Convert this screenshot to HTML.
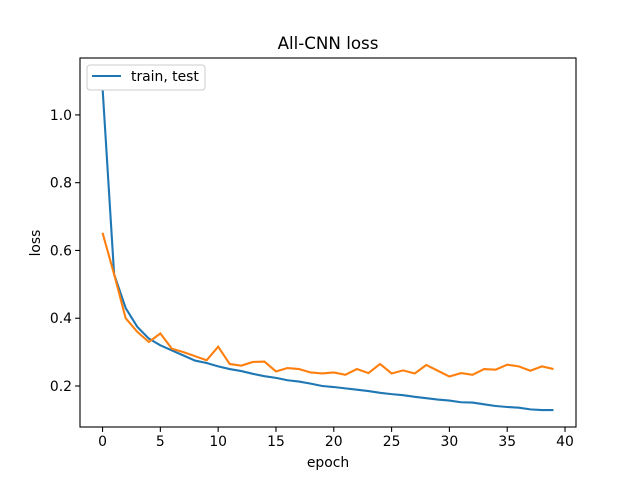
<!DOCTYPE html>
<html><head><meta charset="utf-8"><style>body{margin:0;background:#fff}svg{display:block;font-family:"DejaVu Sans","Liberation Sans",sans-serif}</style></head>
<body>
<svg id="c" width="640" height="480"></svg>
<script>
const epochs=[...Array(40).keys()];
const trainLoss=[1.08,0.53,0.43,0.375,0.34,0.32,0.305,0.29,0.275,0.268,0.258,0.25,0.244,0.236,0.229,0.224,0.217,0.213,0.207,0.2,0.197,0.193,0.189,0.185,0.18,0.176,0.173,0.168,0.164,0.16,0.157,0.152,0.151,0.146,0.141,0.138,0.136,0.131,0.129,0.129];
const testLoss=[0.652,0.53,0.40,0.36,0.33,0.355,0.31,0.30,0.288,0.276,0.316,0.265,0.26,0.271,0.272,0.243,0.253,0.25,0.24,0.237,0.24,0.233,0.25,0.238,0.265,0.237,0.246,0.237,0.262,0.245,0.228,0.238,0.233,0.25,0.248,0.263,0.258,0.245,0.258,0.25];
const xTicks=[0,5,10,15,20,25,30,35,40];
const yTicks=[0.2,0.4,0.6,0.8,1.0];
const NS='http://www.w3.org/2000/svg',s=document.getElementById('c');
const L=80,R=576,T=58,B=427;
const xmin=-1.95,xmax=40.95,ymin=0.079,ymax=1.168;
const X=v=>L+(v-xmin)/(xmax-xmin)*(R-L);
const Y=v=>B-(v-ymin)/(ymax-ymin)*(B-T);
function el(t,a,txt){const e=document.createElementNS(NS,t);for(const k in a)e.setAttribute(k,a[k]);if(txt!=null)e.textContent=txt;s.appendChild(e);return e;}
let e;
xTicks.forEach(v=>{const x=X(v);
e=el('line',{x1:x,x2:x,y1:B,y2:B+4.9,stroke:'#000','stroke-width':1.1});
e=el('text',{x:x,y:B+19,'text-anchor':'middle','font-size':13.9},v);});
yTicks.forEach(v=>{const y=Y(v);
e=el('line',{x1:L-4.9,x2:L,y1:y,y2:y,stroke:'#000','stroke-width':1.1});
e=el('text',{x:L-8,y:y+5,'text-anchor':'end','font-size':13.9},v.toFixed(1));});
function line(d,c,n){e=el('polyline',{points:d.map((v,i)=>X(epochs[i])+','+Y(v)).join(' '),fill:'none',stroke:c,'stroke-width':2.1});}
line(trainLoss,'#1f77b4','train-line');
line(testLoss,'#ff7f0e','test-line');
e=el('rect',{x:L,y:T,width:R-L,height:B-T,fill:'none',stroke:'#000','stroke-width':1.1});
e=el('text',{x:328,y:49,'text-anchor':'middle','font-size':16.7},'All-CNN loss');
e=el('text',{x:328,y:467,'text-anchor':'middle','font-size':13.9},'epoch');
e=el('text',{x:0,y:0,'text-anchor':'middle','font-size':13.9,transform:'translate(40,243) rotate(-90)'},'loss');
e=el('rect',{x:87,y:65,width:118,height:25,rx:3,fill:'#fff',stroke:'#ccc','stroke-width':1});
e=el('line',{x1:92,x2:121,y1:76,y2:76,stroke:'#1f77b4','stroke-width':2.1});
e=el('text',{x:131,y:81,'font-size':13.9},'train, test');
</script>
</body></html>
